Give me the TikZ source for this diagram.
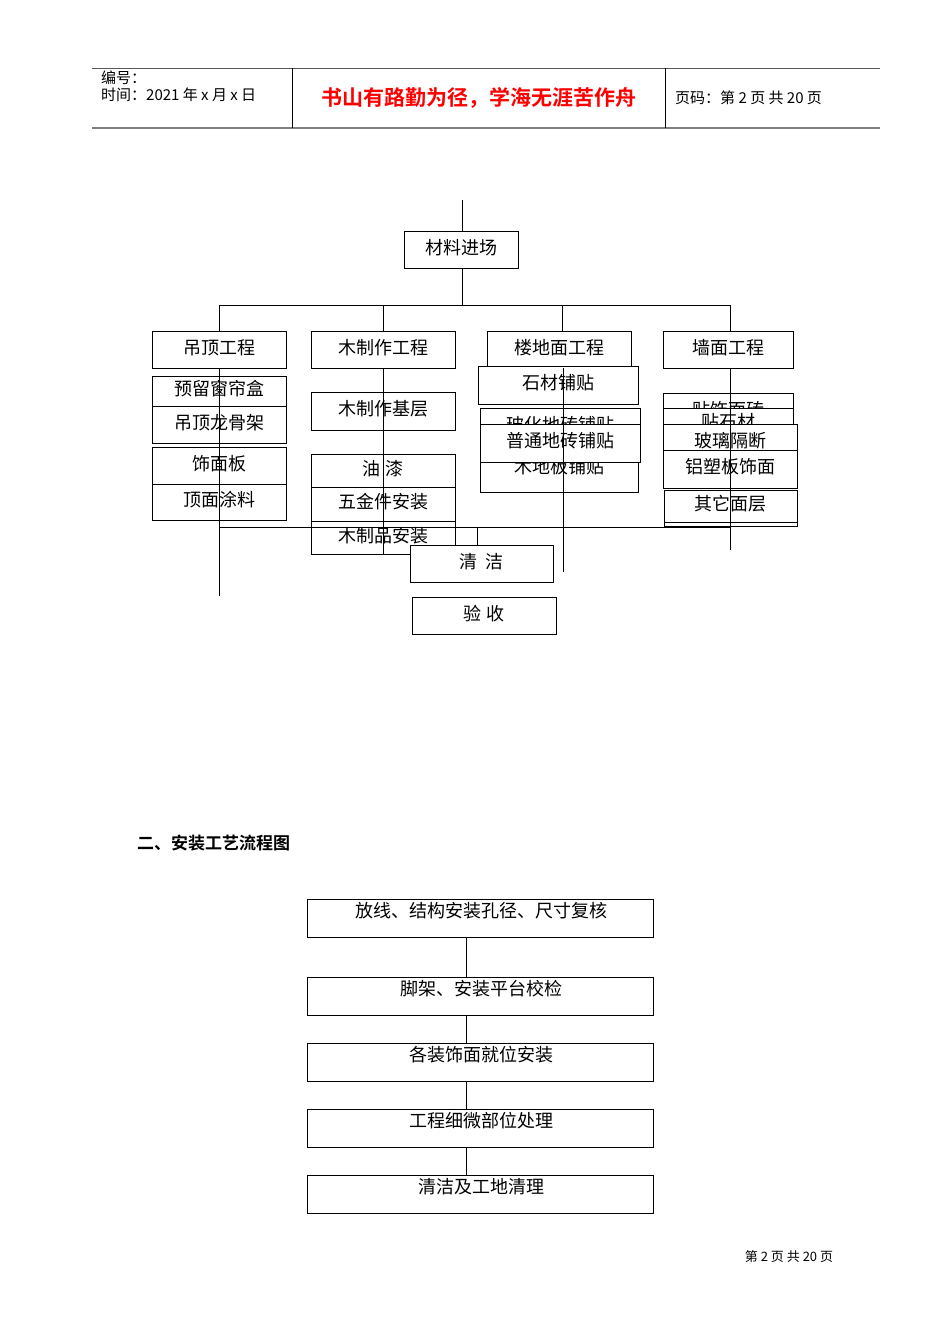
\documentclass[tikz,border=0pt]{standalone}
\usepackage{fontspec}
\setmainfont{Noto Sans CJK SC}
\newfontfamily\hei{Noto Sans CJK SC Bold}
\begin{document}
\begin{tikzpicture}[x=1pt,y=-1pt,
  bx/.style={draw,fill=white,line width=0.8pt,inner sep=0pt},
  ln/.style={line width=0.8pt}]
\useasboundingbox (0,0) rectangle (950,1344);
% header
\draw[line width=0.8pt,gray!70!black] (92,68)--(880,68);
\draw[line width=1.2pt,gray] (92,128)--(880,128);
\draw[ln] (292,68)--(292,128) (665,68)--(665,128);
\node[anchor=north west,align=left,font=\fontsize{15}{17}\selectfont,inner sep=0pt] (h1) at (101,71) {编号：\\时间：2021 年 x 月 x 日};
\node[text=red,font=\hei\fontsize{21}{21}\selectfont] (h2) at (479,98) {书山有路勤为径，学海无涯苦作舟};
\node[anchor=west,font=\fontsize{15}{15}\selectfont,inner sep=0pt] (h3) at (675,98) {页码：第 2 页 共 20 页};
% top tree
\newcommand\bxx[6]{\node[bx,minimum width=#4-#2,minimum height=#5-#3,anchor=north west] (#1) at (#2,#3) {}; \node[font=\fontsize{18}{18}\selectfont,inner sep=0pt] (#1t) at ({(#2+#4)/2},{(#3+#5)/2-2}) {#6};}
\coordinate (top) at (462,200);
\coordinate (hl) at (219,305);
\coordinate (hr) at (730,305);
\bxx{a}{404}{231}{518}{268}{材料进场}
\draw[ln] (top)--(462,231) (462,268)--(462,305);
\draw[ln] (hl)--(hr);
\bxx{b1}{152}{331}{286}{368}{吊顶工程}
\bxx{b2}{311}{331}{455}{368}{木制作工程}
\bxx{b3}{487}{331}{631}{368}{楼地面工程}
\bxx{b4}{663}{331}{793}{368}{墙面工程}
\draw[ln] (219,305)--(219,331) (383,305)--(383,331) (562,305)--(562,331) (730,305)--(730,331);
% col1
\bxx{c1}{152}{376}{286}{406}{预留窗帘盒}
\bxx{c2}{152}{406}{286}{443}{吊顶龙骨架}
\bxx{c3}{152}{447}{286}{484}{饰面板}
\bxx{c4}{152}{484}{286}{520}{顶面涂料}
% col2
\bxx{d1}{311}{392}{455}{430}{木制作基层}
\bxx{d2}{311}{454}{455}{487}{油\ 漆}
\bxx{d3}{311}{487}{455}{521}{五金件安装}
\bxx{d4}{311}{521}{455}{554}{木制品安装}
% col3
\bxx{e1}{478}{366}{638}{404}{石材铺贴}
\bxx{e2}{480}{408}{640}{446}{玻化地砖铺贴}
\bxx{e4}{480}{446}{638}{492}{木地板铺贴}
\bxx{e3}{480}{424}{640}{462}{普通地砖铺贴}
% col4
\bxx{f1}{663}{393}{793}{430}{贴饰面砖}
\bxx{f2}{663}{408}{793}{440}{贴石材}
\node[font=\fontsize{18}{18}\selectfont] (f6t) at (730,525) {木制品制作};
\bxx{f3}{663}{424}{797}{462}{玻璃隔断}
\bxx{f4}{663}{450}{797}{488}{铝塑板饰面}
\bxx{f5}{664}{490}{797}{522}{其它面层}
\fill[white] (664,523) rectangle (797,540);
\draw[ln] (664,490)--(664,526)--(797,526)--(797,490);
\draw[ln] (219,368)--(219,596) (383,368)--(383,554) (563,368)--(563,572) (730,368)--(730,550);
\draw[ln] (219,527)--(730,527);
\bxx{g1}{410}{545}{553}{582}{清\ \ 洁}
\bxx{g2}{412}{597}{556}{634}{验\ 收}
\draw[ln] (477,527)--(477,545);
% section 2
\node[anchor=west,font=\hei\fontsize{17}{17}\selectfont,inner sep=0pt] (s) at (137,843) {二、安装工艺流程图};
\newcommand\fb[3]{\node[bx,minimum width=346,minimum height=38,anchor=north west] (#1) at (307,#2) {}; \node[font=\fontsize{18}{18}\selectfont] (#1t) at (481,#2+12) {#3};}
\fb{p1}{899}{放线、结构安装孔径、尺寸复核}
\fb{p2}{977}{脚架、安装平台校检}
\fb{p3}{1043}{各装饰面就位安装}
\fb{p4}{1109}{工程细微部位处理}
\fb{p5}{1175}{清洁及工地清理}
\draw[ln] (p1.south-|466,0)--(p2.north-|466,0) (p2.south-|466,0)--(p3.north-|466,0) (p3.south-|466,0)--(p4.north-|466,0) (p4.south-|466,0)--(p5.north-|466,0);
\node[font=\fontsize{13}{13}\selectfont] (ft) at (789,1257) {第 2 页 共 20 页};
\end{tikzpicture}
\end{document}
